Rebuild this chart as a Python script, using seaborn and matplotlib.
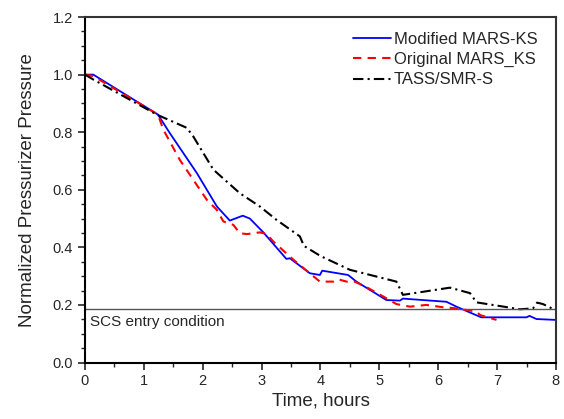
import numpy as np
import pandas as pd
import matplotlib
matplotlib.use("Agg")
import matplotlib.pyplot as plt
from matplotlib.ticker import MultipleLocator
import seaborn as sns

mod_t = [0.0, 0.14, 1.24, 1.44, 1.90, 2.24, 2.46, 2.68, 2.80, 3.03, 3.42, 3.48, 3.82, 3.99, 4.03,
         4.47, 4.61, 5.12, 5.35, 5.40, 6.14, 6.31, 6.73, 7.50, 7.55, 7.67, 8.0]
mod_p = [1.0, 1.0, 0.861, 0.797, 0.658, 0.542, 0.493, 0.51, 0.50, 0.452, 0.36, 0.362, 0.31, 0.304, 0.319,
         0.304, 0.281, 0.217, 0.215, 0.222, 0.211, 0.194, 0.157, 0.157, 0.162, 0.151, 0.148]

org_t = [0.0, 0.14, 1.24, 1.33, 1.61, 2.07, 2.24, 2.35, 2.52, 2.63, 2.75, 2.97, 3.08, 3.20, 3.54, 3.76,
         3.99, 4.22, 4.30, 4.50, 4.58, 4.78, 5.07, 5.29, 5.52, 5.80, 6.08, 6.31, 6.65, 6.71, 6.99]
org_p = [1.0, 0.995, 0.861, 0.809, 0.704, 0.565, 0.53, 0.49, 0.478, 0.449, 0.446, 0.452, 0.447, 0.42,
         0.357, 0.32, 0.281, 0.281, 0.289, 0.278, 0.281, 0.262, 0.229, 0.203, 0.194, 0.2, 0.192, 0.188,
         0.177, 0.165, 0.148]

tass_t = [0.0, 0.14, 1.22, 1.73, 1.84, 2.18, 2.63, 2.97, 3.25, 3.65, 3.72, 4.0, 4.5, 5.29, 5.40,
          6.2, 6.54, 6.65, 7.39, 7.61, 7.68, 7.78, 7.98]
tass_p = [1.0, 0.983, 0.861, 0.815, 0.785, 0.67, 0.588, 0.542, 0.496, 0.438, 0.405, 0.37, 0.322, 0.281,
          0.235, 0.26, 0.241, 0.209, 0.185, 0.188, 0.208, 0.203, 0.183]

scs_level = 0.185

sns.set_style("ticks")
plt.rcParams['font.family'] = ['Liberation Sans', 'DejaVu Sans']

fig = plt.figure(figsize=(5.64, 4.19), dpi=100)
ax = fig.add_axes([0.1507, 0.1348, 0.835, 0.8246])

sns.lineplot(x=mod_t, y=mod_p, color='blue', lw=1.3, label='Modified MARS-KS', ax=ax)
sns.lineplot(x=org_t, y=org_p, color='red', lw=1.5, label='Original MARS_KS', ax=ax)
sns.lineplot(x=tass_t, y=tass_p, color='black', lw=1.5, label='TASS/SMR-S', ax=ax)
ax.lines[1].set_dashes([4, 3])
ax.lines[2].set_dashes([5, 2, 1, 2])
ax.axhline(scs_level, color='#555555', lw=1.0)
ax.text(0.08, 0.142, 'SCS entry condition', fontsize=11, va='center')

ax.set_xlim(0, 8)
ax.set_ylim(0, 1.2)
ax.xaxis.set_major_locator(MultipleLocator(1))
ax.xaxis.set_minor_locator(MultipleLocator(0.5))
ax.yaxis.set_major_locator(MultipleLocator(0.2))
ax.yaxis.set_minor_locator(MultipleLocator(0.05))
ax.yaxis.set_major_formatter(matplotlib.ticker.FormatStrFormatter('%.1f'))
ax.tick_params(which='major', direction='out', length=5, width=1.2, labelsize=10.5)
ax.tick_params(which='minor', direction='out', length=3, width=1.0)
for s in ['left', 'bottom']:
    ax.spines[s].set_linewidth(1.5)
    ax.spines[s].set_color('black')
for s in ['top', 'right']:
    ax.spines[s].set_linewidth(1.5)
    ax.spines[s].set_color('#333333')

ax.set_xlabel('Time, hours', fontsize=13.5, labelpad=3)
ax.set_ylabel('Normalized Pressurizer Pressure', fontsize=13.5, labelpad=12)

leg = ax.legend(loc='upper right', bbox_to_anchor=(0.975, 0.975), frameon=False, fontsize=12,
                handlelength=2.3, handletextpad=0.15, labelspacing=0.3, borderaxespad=0.0)

fig.savefig('out.png', dpi=100)
